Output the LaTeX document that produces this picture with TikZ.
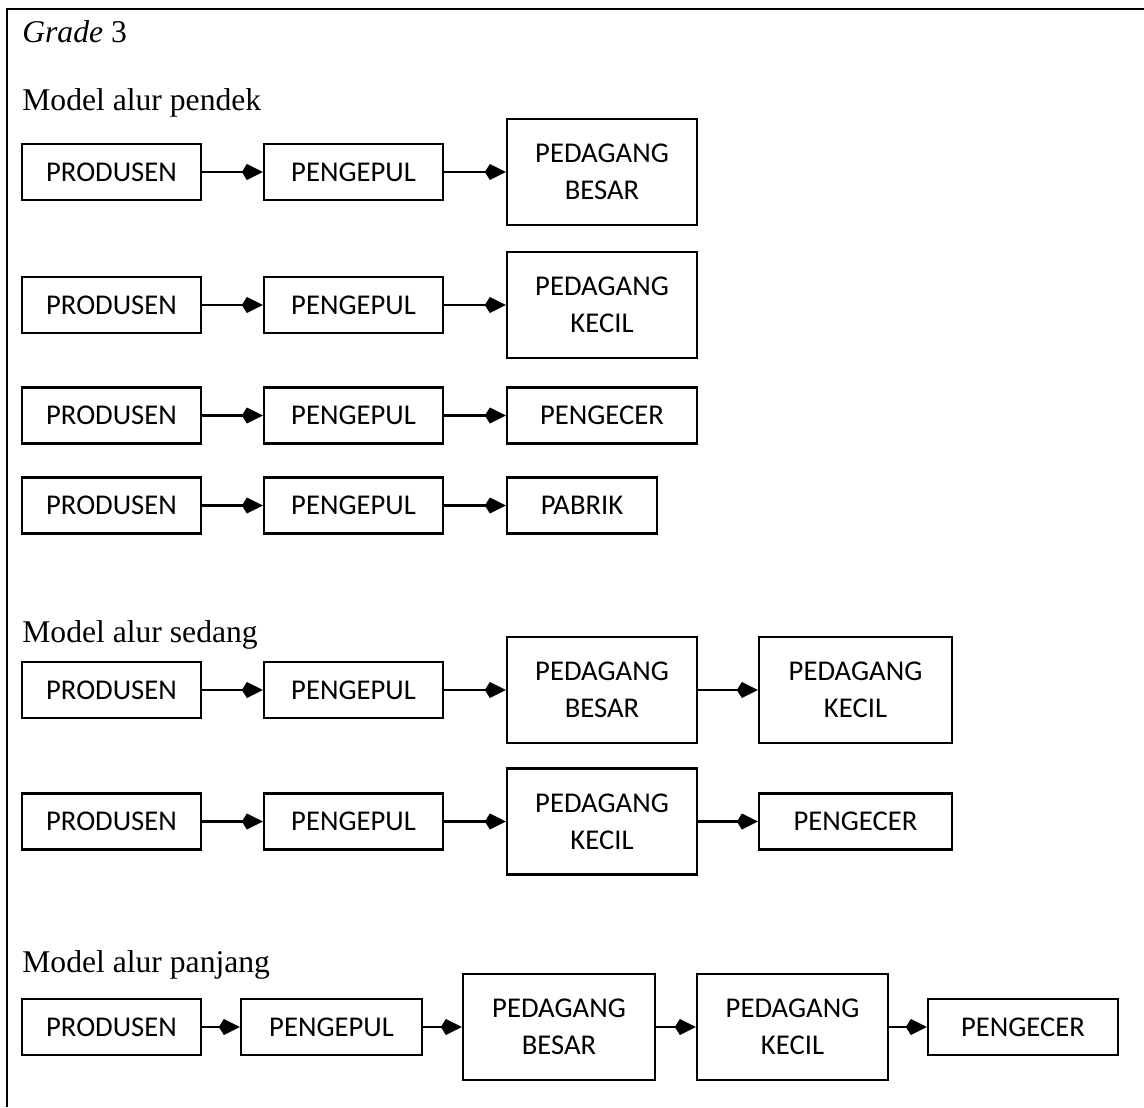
\documentclass[tikz,border=0pt]{standalone}
\usepackage{fontspec}
\setmainfont{Liberation Serif}
\newfontfamily\boxfont{Carlito}
\usetikzlibrary{arrows.meta}

\begin{document}
\begin{tikzpicture}[x=0.02cm, y=-0.02cm,
    box/.style={draw, line width=1.3pt, inner sep=0pt, align=center,
      font=\boxfont\fontsize{16.3}{21}\selectfont},
    small/.style={box, minimum height=1.12cm},
    big/.style={box, minimum height=2.12cm},
    w/.style={minimum width=#1*0.02cm},
    flow/.style={line width=1.3pt, -{Kite[length=0.42cm, width=0.32cm, inset=0.1cm]}},
    title/.style={anchor=base west, inner sep=0pt, font=\fontsize{18}{22}\selectfont}
  ]
\useasboundingbox (0,0) rectangle (1144,1107);

% Frame
\draw[line width=0.9pt] (7,1107) -- (7,9) -- (1144,9);

% Headings
\node[title] (grade) at (22,42) {\textit{Grade} 3};
\node[title] (pendek) at (22,110) {Model alur pendek};
\node[title] (sedang) at (22,642) {Model alur sedang};
\node[title] (panjang) at (22,972) {Model alur panjang};

% Model alur pendek
\foreach \r/\y in {1/172, 2/305, 3/415.5, 4/505.5} {
  \node[small, w=179] (prod\r) at (111.5,\y) {PRODUSEN};
  \node[small, w=179] (peng\r) at (353.5,\y) {PENGEPUL};
  \draw[flow] (prod\r) -- (peng\r);
}
\node[big, w=190] (besar1) at (602,172) {PEDAGANG\\BESAR};
\node[big, w=190] (kecil2) at (602,305) {PEDAGANG\\KECIL};
\node[small, w=190] (ecer3) at (602,415.5) {PENGECER};
\node[small, w=150] (pabrik4) at (582,505.5) {PABRIK};
\draw[flow] (peng1) -- (besar1);
\draw[flow] (peng2) -- (kecil2);
\draw[flow] (peng3) -- (ecer3);
\draw[flow] (peng4) -- (pabrik4);

% Model alur sedang
\foreach \r/\y in {5/690, 6/821.5} {
  \node[small, w=179] (prod\r) at (111.5,\y) {PRODUSEN};
  \node[small, w=179] (peng\r) at (353.5,\y) {PENGEPUL};
  \draw[flow] (prod\r) -- (peng\r);
}
\node[big, w=190] (besar5) at (602,690) {PEDAGANG\\BESAR};
\node[big, w=193] (kecil5) at (855.5,690) {PEDAGANG\\KECIL};
\node[big, w=190] (kecil6) at (602,821.5) {PEDAGANG\\KECIL};
\node[small, w=193] (ecer6) at (855.5,821.5) {PENGECER};
\draw[flow] (peng5) -- (besar5);
\draw[flow] (besar5) -- (kecil5);
\draw[flow] (peng6) -- (kecil6);
\draw[flow] (kecil6) -- (ecer6);

% Model alur panjang
\node[small, w=179] (prod7) at (111.5,1027) {PRODUSEN};
\node[small, w=181] (peng7) at (331.5,1027) {PENGEPUL};
\node[big, w=192] (besar7) at (559,1027) {PEDAGANG\\BESAR};
\node[big, w=191] (kecil7) at (792.5,1027) {PEDAGANG\\KECIL};
\node[small, w=190] (ecer7) at (1023,1027) {PENGECER};
\draw[flow] (prod7) -- (peng7);
\draw[flow] (peng7) -- (besar7);
\draw[flow] (besar7) -- (kecil7);
\draw[flow] (kecil7) -- (ecer7);

\end{tikzpicture}
\end{document}
